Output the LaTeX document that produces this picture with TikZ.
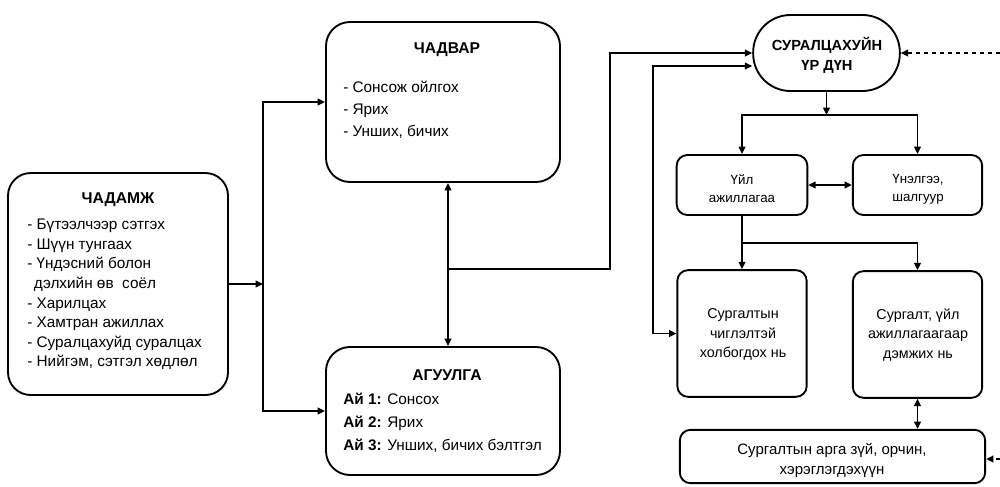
\documentclass[tikz,border=0pt]{standalone}
\usepackage{fontspec}
\setmainfont{Liberation Sans}
\usetikzlibrary{arrows.meta}
\tikzset{
  box/.style={draw, line width=1.4pt, rounded corners=#1, inner sep=0pt},
  box/.default=18pt,
  conn/.style={line width=1.3pt, -{Triangle[length=5.5pt,width=5pt]}},
  dconn/.style={line width=1.3pt, {Triangle[length=5.5pt,width=5pt]}-{Triangle[length=5.5pt,width=5pt]}},
  dash conn/.style={line width=1.3pt, dash pattern=on 3pt off 3pt, -{Triangle[length=5.5pt,width=5pt]}},
  txt/.style={inner sep=0pt, align=left},
  ctxt/.style={inner sep=0pt, align=center},
}
\begin{document}
\begin{tikzpicture}[x=0.75pt,y=-0.75pt]
\useasboundingbox (0,0) rectangle (1000,486);

% boxes
\node[box=17pt, minimum width=165pt, minimum height=166.5pt] (chadamzh) at (118,284) {};
\node[box=18pt, minimum width=175.5pt, minimum height=120pt] (chadvar) at (443,102) {};
\node[box=18pt, minimum width=175.5pt, minimum height=96pt] (aguulga) at (443,411) {};
\node[box=28pt, minimum width=110pt, minimum height=57pt] (sur) at (826.5,53) {};
\node[box=8pt, minimum width=98pt, minimum height=45pt] (uil) at (742,185) {};
\node[box=8pt, minimum width=97pt, minimum height=45pt] (unelgee) at (917.5,185) {};
\node[box=8pt, minimum width=97pt, minimum height=95pt] (chigl) at (742,333.5) {};
\node[box=8pt, minimum width=97pt, minimum height=95pt] (dem) at (917.5,334.5) {};
\node[box=8pt, minimum width=229pt, minimum height=40pt] (arga) at (832.5,456.5) {};

% texts
\node[ctxt, font=\bfseries\fontsize{11.75}{13}\selectfont] (t1) at (118,200) {ЧАДАМЖ};
\node[txt, anchor=west, font=\fontsize{11.5}{14.7}\selectfont] (t1i) at (27,294.5) {%
- Бүтээлчээр сэтгэх\\
- Шүүн тунгаах\\
- Үндэсний болон\\
\hspace*{5pt}дэлхийн өв\ \ соёл\\
- Харилцах\\
- Хамтран ажиллах\\
- Суралцахуйд суралцах\\
- Нийгэм, сэтгэл хөдлөл};

\node[ctxt, font=\bfseries\fontsize{11.75}{13}\selectfont] (t2) at (447,50) {ЧАДВАР};
\node[txt, anchor=west, font=\fontsize{11.5}{16.5}\selectfont] (t2i) at (343,110) {%
- Сонсож ойлгох\\
- Ярих\\
- Унших, бичих};

\node[ctxt, font=\bfseries\fontsize{11.75}{13}\selectfont] (t3) at (447,375) {АГУУЛГА};
\node[txt, anchor=west, font=\fontsize{11.5}{17.25}\selectfont] (t3i) at (343,423) {%
\textbf{Ай 1:} Сонсох\\
\textbf{Ай 2:} Ярих\\
\textbf{Ай 3:} Унших, бичих бэлтгэл};

\node[ctxt, font=\bfseries\fontsize{11}{15}\selectfont] (t4) at (827,55) {СУРАЛЦАХУЙН\\ҮР ДҮН};
\node[ctxt, font=\fontsize{10}{13.5}\selectfont] (t5) at (742,189) {Үйл\\ажиллагаа};
\node[ctxt, font=\fontsize{10}{13.5}\selectfont] (t6) at (918,189) {Үнэлгээ,\\шалгуур};
\node[ctxt, font=\fontsize{10.75}{14.6}\selectfont] (t7) at (743,334.5) {Сургалтын\\чиглэлтэй\\холбогдох нь};
\node[ctxt, font=\fontsize{10.75}{14.6}\selectfont] (t8) at (918,335) {Сургалт, үйл\\ажиллагаагаар\\дэмжих нь};
\node[ctxt, font=\fontsize{11.25}{15}\selectfont] (t9) at (832,460) {Сургалтын арга зүй, орчин,\\хэрэглэгдэхүүн};

% coordinates
\coordinate (j1) at (263,284);
\coordinate (v) at (448,269);
\coordinate (c1) at (610,269);
\coordinate (c2) at (653,66);
\coordinate (h) at (826.5,115);
\coordinate (k) at (742,243);
\coordinate (d1) at (1000,53);
\coordinate (d2) at (1000,459);

% connectors
\draw[conn] (chadamzh.east |- j1) -- (j1);
\draw[conn] (j1) |- (chadvar.west);
\draw[conn] (j1) |- (aguulga.west);
\draw[dconn] (chadvar.south -| v) -- (aguulga.north -| v);
\draw[conn] (v) -- (c1) |- (sur.west);
\draw[dconn] (sur.west |- c2) -- (c2) |- (chigl.west);
\draw[conn] (sur.south) -- (h);
\draw[conn] (h) -| (uil.north);
\draw[conn] (h) -| (unelgee.north);
\draw[dconn] (uil.east) -- (unelgee.west);
\draw[conn] (uil.south) -- (chigl.north);
\draw[conn] (k) -| (dem.north);
\draw[dconn] (dem.south) -- (arga.north -| dem.south);
\draw[dash conn] (d1) -- (sur.east);
\draw[dash conn] (d2) -- (arga.east |- d2);
\end{tikzpicture}
\end{document}
